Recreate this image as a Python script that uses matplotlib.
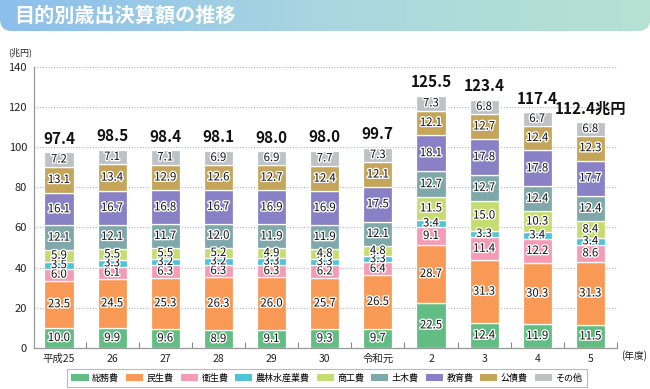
import matplotlib
matplotlib.use("Agg")
import matplotlib.pyplot as plt
import matplotlib.patheffects as pe
import matplotlib.patches as mpatches
import numpy as np

plt.rcParams["font.family"] = ["Noto Sans CJK JP", "DejaVu Sans"]

# ---------------------------------------------------------------------------
# Data (兆円)
# ---------------------------------------------------------------------------
years = ["平成25", "26", "27", "28", "29", "30", "令和元", "2", "3", "4", "5"]
categories = ["総務費", "民生費", "衛生費", "農林水産業費", "商工費", "土木費", "教育費", "公債費", "その他"]

soumu    = [10.0, 9.9, 9.6, 8.9, 9.1, 9.3, 9.7, 22.5, 12.4, 11.9, 11.5]
minsei   = [23.5, 24.5, 25.3, 26.3, 26.0, 25.7, 26.5, 28.7, 31.3, 30.3, 31.3]
eisei    = [6.0, 6.1, 6.3, 6.3, 6.3, 6.2, 6.4, 9.1, 11.4, 12.2, 8.6]
nourin   = [3.5, 3.3, 3.2, 3.2, 3.3, 3.3, 3.3, 3.4, 3.3, 3.4, 3.4]
shoukou  = [5.9, 5.5, 5.5, 5.2, 4.9, 4.8, 4.8, 11.5, 15.0, 10.3, 8.4]
doboku   = [12.1, 12.1, 11.7, 12.0, 11.9, 11.9, 12.1, 12.7, 12.7, 12.4, 12.4]
kyouiku  = [16.1, 16.7, 16.8, 16.7, 16.9, 16.9, 17.5, 18.1, 17.8, 17.8, 17.7]
kousai   = [13.1, 13.4, 12.9, 12.6, 12.7, 12.4, 12.1, 12.1, 12.7, 12.4, 12.3]
sonota   = [7.2, 7.1, 7.1, 6.9, 6.9, 7.7, 7.3, 7.3, 6.8, 6.7, 6.8]
totals   = [97.4, 98.5, 98.4, 98.1, 98.0, 98.0, 99.7, 125.5, 123.4, 117.4, 112.4]

series = [soumu, minsei, eisei, nourin, shoukou, doboku, kyouiku, kousai, sonota]
colors = ["#62bd84", "#f89a56", "#f59bb6", "#4fc3d8", "#c5dd70",
          "#7fa8aa", "#8a80c5", "#c4a55a", "#bdc2c6"]

W, H = 650, 389
fig = plt.figure(figsize=(W / 100, H / 100), dpi=100)

# ---------------------------------------------------------------------------
# Title banner with gradient
# ---------------------------------------------------------------------------
bh = 32
axb = fig.add_axes([0, 1 - bh / H, 1, bh / H])
axb.set_xlim(0, W)
axb.set_ylim(0, bh)
axb.axis("off")
c0 = np.array([0x8c, 0xbf, 0xec]) / 255
c1 = np.array([0xaa, 0xd6, 0xe0]) / 255
c2 = np.array([0xb6, 0xe2, 0xd2]) / 255
t = np.linspace(0, 1, 256)
grad = np.where(t[:, None] < 0.5,
                c0 + (c1 - c0) * (t[:, None] / 0.5),
                c1 + (c2 - c1) * ((t[:, None] - 0.5) / 0.5))
img = axb.imshow(grad[None, :, :], extent=[0, W, 0, bh], aspect="auto")
clip = mpatches.FancyBboxPatch((0, 1), W, bh + 20,
                               boxstyle="round,pad=0,rounding_size=12",
                               transform=axb.transData, facecolor="none", edgecolor="none")
axb.add_patch(clip)
img.set_clip_path(clip)
axb.text(14, 16.5, "目的別歳出決算額の推移", color="white", fontsize=14.5,
         fontweight="bold", va="center", ha="left")

# ---------------------------------------------------------------------------
# Stacked bars
# ---------------------------------------------------------------------------
ax = fig.add_axes([34 / W, (H - 348) / H, 583 / W, 281.3 / H])
x = np.arange(len(years))
bottom = np.zeros(len(years))
stroke = [pe.withStroke(linewidth=2.0, foreground="white")]
for vals, col, name in zip(series, colors, categories):
    vals = np.array(vals)
    ax.bar(x, vals, bottom=bottom, width=0.55, color=col, edgecolor="white",
           linewidth=0.9, label=name, zorder=3)
    for xi, b, v in zip(x, bottom, vals):
        ax.text(xi, b + v / 2, f"{v:.1f}", ha="center", va="center",
                fontsize=8.2, color="#111111", path_effects=stroke, zorder=5)
    bottom += vals

for xi, tot, top in zip(x, totals, bottom):
    lab = f"{tot:.1f}兆円" if xi == len(x) - 1 else f"{tot:.1f}"
    ax.annotate(lab, (xi, top), xytext=(0, 4), textcoords="offset points",
                ha="center", va="bottom", fontsize=11, fontweight="bold", color="#111111")

ax.set_xlim(-0.47, 10.5)
ax.set_ylim(0, 140)
ax.set_yticks(np.arange(0, 141, 20))
ax.yaxis.grid(True, linestyle=(0, (1, 1.5)), color="#b5b5b5", linewidth=0.8, zorder=0)
ax.tick_params(axis="y", length=0, labelsize=8, colors="#222222", pad=5)
ax.set_xticks(x)
ax.set_xticklabels(years)
ax.tick_params(axis="x", length=0, labelsize=7.5, colors="#222222", pad=4)
ax.set_xticks(np.arange(0.5, 10.6, 1), minor=True)
ax.tick_params(axis="x", which="minor", direction="in", length=4, color="#888888", width=0.8)
for s in ["top", "right"]:
    ax.spines[s].set_visible(False)
for s in ["left", "bottom"]:
    ax.spines[s].set_color("#999999")
    ax.spines[s].set_linewidth(0.9)

fig.text(8 / W, 1 - 52 / H, "(兆円)", fontsize=6.5, ha="left", va="center", color="#222222")
fig.text(621 / W, 1 - 356 / H, "(年度)", fontsize=7, ha="left", va="center", color="#222222")

# ---------------------------------------------------------------------------
# Legend
# ---------------------------------------------------------------------------
handles = [mpatches.Patch(facecolor=c, edgecolor="none", label=n) for c, n in zip(colors, categories)]
leg = fig.legend(handles=handles, ncol=9, loc="center", bbox_to_anchor=(327 / W, 1 - 378 / H),
                 fontsize=6.5, frameon=True, fancybox=False, handlelength=1.9, handleheight=0.8,
                 handletextpad=0.4, columnspacing=0.75, borderpad=0.5, borderaxespad=0)
leg.get_frame().set_edgecolor("#aaaaaa")
leg.get_frame().set_linewidth(0.8)

fig.savefig("out.png", dpi=100)
